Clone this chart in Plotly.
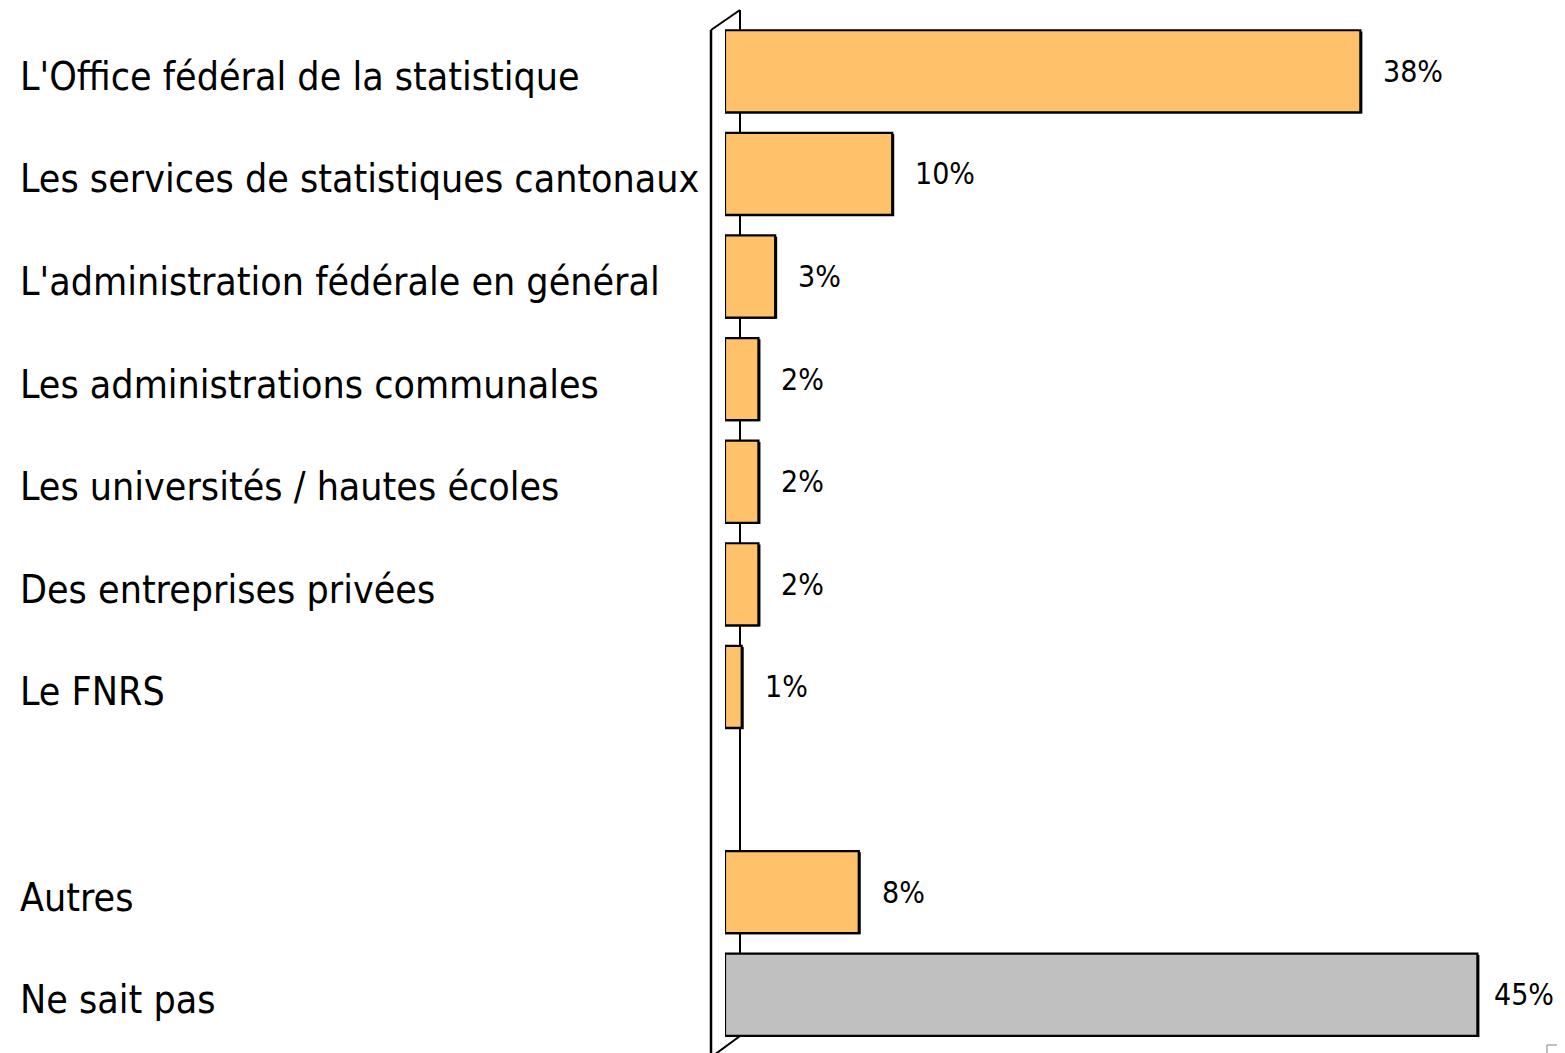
import plotly.graph_objects as go

categories = ["L'Office fédéral de la statistique", "Les services de statistiques cantonaux",
              "L'administration fédérale en général", "Les administrations communales",
              "Les universités / hautes écoles", "Des entreprises privées", "Le FNRS",
              "", "Autres", "Ne sait pas"]
values = [38, 10, 3, 2, 2, 2, 1, None, 8, 45]
value_labels = ["38%", "10%", "3%", "2%", "2%", "2%", "1%", "", "8%", "45%"]
bar_colors = ["#FFC26A"] * 9 + ["#C0C0C0"]

# page body has an 8px margin; work in reference pixels and subtract it
OFF = 8
W, H = 1557, 1045
L, T = 725 - OFF, 20 - OFF
pw = 836
ph = 1026
R = W - L - pw
B = H - T - ph

FONT = "DejaVu Sans Condensed, sans-serif"

idx = [i for i, v in enumerate(values) if v is not None]
fig = go.Figure()
# shadow (thicker right / bottom edge)
fig.add_trace(go.Bar(
    y=idx, x=[values[i] + 0.12 for i in idx], orientation="h",
    marker=dict(color="black", line=dict(width=0)),
    width=0.8, offset=-0.4 + 0.012, showlegend=False, hoverinfo="skip",
))
fig.add_trace(go.Bar(
    y=idx, x=[values[i] for i in idx], orientation="h",
    marker=dict(color=[bar_colors[i] for i in idx], line=dict(color="black", width=2.2)),
    width=0.8, offset=-0.4, showlegend=False, hoverinfo="skip",
))

def px_x(px):
    return (px - OFF - L) / pw

def px_y(py):
    return 1 - (py - OFF - T) / ph

shapes = []
# 3D wall
shapes.append(dict(type="line", xref="paper", yref="paper", x0=px_x(740), x1=px_x(740),
                   y0=px_y(10), y1=px_y(1036), line=dict(color="black", width=2), layer="below"))
shapes.append(dict(type="line", xref="paper", yref="paper", x0=px_x(711), x1=px_x(711),
                   y0=px_y(30), y1=px_y(1060), line=dict(color="black", width=2.5)))
shapes.append(dict(type="line", xref="paper", yref="paper", x0=px_x(711), x1=px_x(740),
                   y0=px_y(30), y1=px_y(10), line=dict(color="black", width=2)))
shapes.append(dict(type="line", xref="paper", yref="paper", x0=px_x(740), x1=px_x(710),
                   y0=px_y(1036), y1=px_y(1058), line=dict(color="black", width=2)))
shapes.append(dict(type="rect", xref="paper", yref="paper", x0=px_x(1547), x1=px_x(1575),
                   y0=px_y(1045), y1=px_y(1070), line=dict(color="#808080", width=1)))

annotations = []
for i, (c, v, lab) in enumerate(zip(categories, values, value_labels)):
    if c:
        annotations.append(dict(x=px_x(18), y=i, xref="paper", yref="y", text=c,
                                showarrow=False, xanchor="left", yanchor="middle", yshift=-5,
                                font=dict(family=FONT, size=39, color="black")))
    if v is not None:
        annotations.append(dict(x=v, y=i, xref="x", yref="y", text=lab, showarrow=False,
                                xanchor="left", yanchor="middle",
                                xshift=21 if v < 40 else 15, yshift=0,
                                font=dict(family=FONT, size=30, color="black")))

fig.update_layout(
    width=W, height=H, margin=dict(l=L, r=R, t=T, b=B),
    plot_bgcolor="white", paper_bgcolor="white", barmode="overlay",
    xaxis=dict(range=[0, 50], visible=False, fixedrange=True),
    yaxis=dict(range=[len(categories) - 0.5, -0.5], visible=False, fixedrange=True),
    shapes=shapes, annotations=annotations,
)
fig.write_html("out.html")
